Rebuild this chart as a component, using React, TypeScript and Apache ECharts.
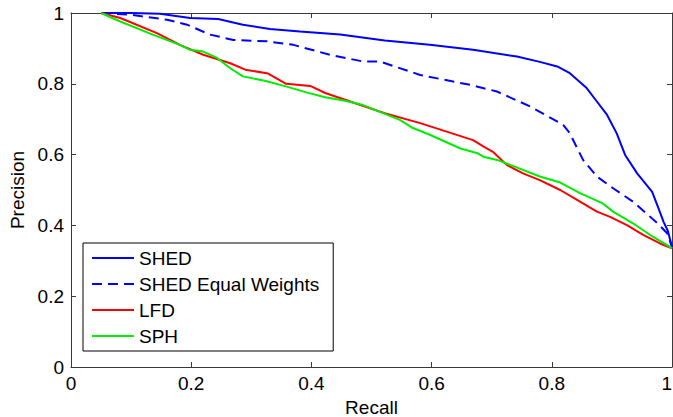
import React, { useEffect, useRef } from "react";
import * as echarts from "echarts";

const seriesNames = ["SHED", "SHED Equal Weights", "LFD", "SPH"];
const xTicks = [0, 0.2, 0.4, 0.6, 0.8, 1];

const shedRecall = [0.05, 0.10, 0.148, 0.198, 0.245, 0.286, 0.331, 0.381, 0.448, 0.522, 0.597, 0.669, 0.742, 0.78, 0.809, 0.83, 0.858, 0.875, 0.892, 0.908, 0.922, 0.942, 0.967, 0.978, 0.986, 0.993, 1.0];
const shedPrecision = [1.0, 1.0, 0.998, 0.986, 0.983, 0.967, 0.955, 0.948, 0.939, 0.922, 0.91, 0.896, 0.877, 0.862, 0.849, 0.83, 0.788, 0.75, 0.712, 0.66, 0.599, 0.547, 0.495, 0.446, 0.41, 0.385, 0.34];

const ewRecall = [0.05, 0.10, 0.16, 0.193, 0.231, 0.27, 0.326, 0.37, 0.431, 0.486, 0.514, 0.581, 0.664, 0.709, 0.764, 0.819, 0.83, 0.852, 0.875, 0.902, 0.935, 0.96, 0.975, 0.992, 1.0];
const ewPrecision = [1.0, 0.995, 0.981, 0.967, 0.939, 0.924, 0.92, 0.91, 0.882, 0.863, 0.863, 0.825, 0.797, 0.778, 0.736, 0.684, 0.66, 0.585, 0.538, 0.505, 0.467, 0.43, 0.407, 0.378, 0.339];

const lfdRecall = [0.05, 0.082, 0.143, 0.181, 0.22, 0.265, 0.29, 0.328, 0.358, 0.398, 0.423, 0.456, 0.489, 0.522, 0.581, 0.669, 0.686, 0.702, 0.725, 0.752, 0.78, 0.814, 0.847, 0.875, 0.897, 0.925, 0.952, 0.98, 1.0];
const lfdPrecision = [1.0, 0.986, 0.943, 0.91, 0.882, 0.858, 0.84, 0.829, 0.8, 0.794, 0.774, 0.755, 0.736, 0.717, 0.689, 0.641, 0.623, 0.608, 0.571, 0.547, 0.528, 0.5, 0.467, 0.439, 0.424, 0.401, 0.373, 0.349, 0.335];

const sphRecall = [0.05, 0.082, 0.136, 0.181, 0.198, 0.22, 0.243, 0.265, 0.286, 0.324, 0.359, 0.393, 0.423, 0.456, 0.484, 0.512, 0.547, 0.569, 0.597, 0.647, 0.676, 0.686, 0.709, 0.735, 0.78, 0.814, 0.847, 0.885, 0.902, 0.935, 0.968, 1.0];
const sphPrecision = [1.0, 0.976, 0.939, 0.91, 0.896, 0.891, 0.873, 0.844, 0.821, 0.808, 0.792, 0.775, 0.762, 0.752, 0.741, 0.722, 0.698, 0.675, 0.656, 0.618, 0.604, 0.594, 0.585, 0.568, 0.538, 0.521, 0.491, 0.462, 0.439, 0.406, 0.368, 0.336];

const zip = (xs: number[], ys: number[]) => xs.map((x, i) => [x, ys[i]]);

const FONT = "'Liberation Sans', Arial, Helvetica, sans-serif";
const AXIS_COLOR = "#3a3a3a";

export default function App() {
  const ref = useRef<HTMLDivElement>(null);
  useEffect(() => {
    if (!ref.current) return;
    const chart = echarts.init(ref.current, undefined, { renderer: "svg" });
    const axisCommon = {
      type: "value" as const,
      min: 0,
      max: 1,
      interval: 0.2,
      splitLine: { show: false },
      axisLine: { show: true, onZero: false, lineStyle: { color: AXIS_COLOR, width: 1 } },
      axisTick: { show: true, inside: true, length: 5, lineStyle: { color: AXIS_COLOR } },
    };
    const lineSeries = (name: string, data: number[][], color: string, dashed = false) => ({
      name,
      type: "line" as const,
      data,
      symbol: "none",
      smooth: false,
      xAxisIndex: 0,
      yAxisIndex: 0,
      lineStyle: { color, width: 2, type: dashed ? [10, 6] : "solid" },
      itemStyle: { color },
    });
    chart.setOption({
      animation: false,
      backgroundColor: "#ffffff",
      textStyle: { fontFamily: FONT },
      grid: { left: 71, top: 13, right: 1, bottom: 50, containLabel: false, outerBoundsMode: "none" },
      xAxis: [
        {
          ...axisCommon,
          position: "bottom",
          name: "Recall",
          nameLocation: "middle",
          nameGap: 28,
          nameTextStyle: { fontSize: 19, color: "#000", fontFamily: FONT },
          axisLabel: {
            fontSize: 19,
            color: "#000",
            margin: 7,
            fontFamily: FONT,
            alignMaxLabel: "right",
            formatter: (v: number) => (xTicks.includes(Math.round(v * 10) / 10) ? String(Math.round(v * 10) / 10) : ""),
          },
        },
        {
          ...axisCommon,
          position: "top",
          axisLabel: { show: false },
        },
      ],
      yAxis: [
        {
          ...axisCommon,
          position: "left",
          name: "Precision",
          nameLocation: "middle",
          nameGap: 42,
          nameTextStyle: { fontSize: 19, color: "#000", fontFamily: FONT },
          axisLabel: { fontSize: 19, color: "#000", margin: 7, fontFamily: FONT },
        },
        {
          ...axisCommon,
          position: "right",
          axisLabel: { show: false },
        },
      ],
      legend: {
        data: seriesNames,
        orient: "vertical",
        left: 83,
        top: 243,
        padding: [5, 14, 5, 8],
        itemWidth: 42,
        itemHeight: 14,
        itemGap: 6,
        backgroundColor: "#ffffff",
        borderColor: "#000",
        borderWidth: 1,
        borderRadius: 0,
        itemStyle: { opacity: 0, borderWidth: 0 },
        textStyle: { fontSize: 19, color: "#000", fontFamily: FONT, lineHeight: 20 },
      },
      series: [
        lineSeries(seriesNames[0], zip(shedRecall, shedPrecision), "#0000ff"),
        lineSeries(seriesNames[1], zip(ewRecall, ewPrecision), "#0000ff", true),
        lineSeries(seriesNames[2], zip(lfdRecall, lfdPrecision), "#ff0000"),
        lineSeries(seriesNames[3], zip(sphRecall, sphPrecision), "#00ee00"),
      ],
    });
    return () => chart.dispose();
  }, []);
  return (
    <div
      ref={ref}
      style={{ position: "fixed", left: 0, top: 0, width: 673, height: 417, background: "#fff" }}
    />
  );
}
